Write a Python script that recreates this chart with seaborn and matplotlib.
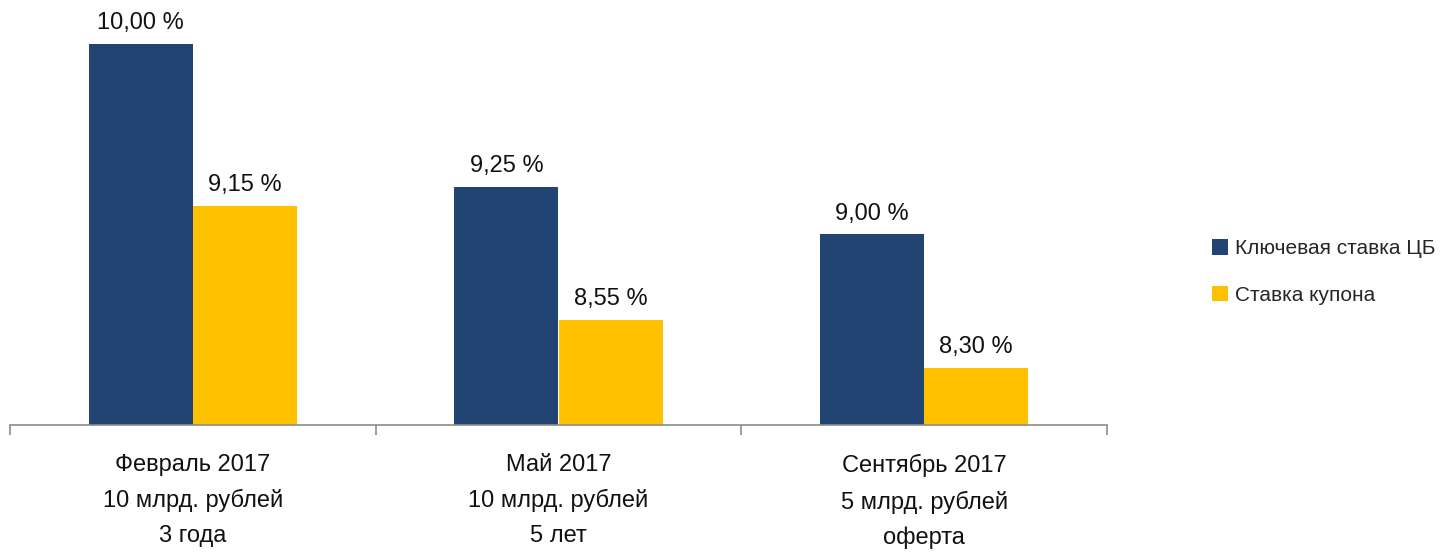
import pandas as pd
import seaborn as sns
import matplotlib.pyplot as plt
from matplotlib.ticker import FixedLocator

# Data
categories = ["Февраль 2017\n10 млрд. рублей\n3 года",
              "Май 2017\n10 млрд. рублей\n5 лет",
              "Сентябрь 2017\n5 млрд. рублей\nоферта"]
series = ["Ключевая ставка ЦБ", "Ставка купона"]
key_rate = [10.00, 9.25, 9.00]
coupon_rate = [9.15, 8.55, 8.30]
colors = ["#214473", "#FFC000"]

df = pd.DataFrame({
    "cat": categories * 2,
    "series": [series[0]] * 3 + [series[1]] * 3,
    "value": key_rate + coupon_rate,
})

sns.set_style("white")
plt.rcParams["font.family"] = ["Liberation Sans Narrow", "Liberation Sans", "DejaVu Sans"]

fig = plt.figure(figsize=(14.56, 5.53), dpi=100)
ax = fig.add_axes([10 / 1456, 1 - 425 / 553, 1097 / 1456, 425 / 553])

sns.barplot(data=df, x="cat", y="value", hue="series", palette=colors,
            width=0.57, saturation=1, ax=ax, edgecolor="none")

ax.set_ylim(8.0, 10.23)
ax.set_xlim(-0.5, 2.5)

for cont in ax.containers:
    ax.bar_label(cont, labels=[f"{v:.2f}".replace(".", ",") + " %" for v in cont.datavalues],
                 padding=7, fontsize=17, color="#111111")

for s in ["top", "right", "left"]:
    ax.spines[s].set_visible(False)
ax.spines["bottom"].set_color("#8c8c8c")
ax.spines["bottom"].set_linewidth(1.2)
ax.set_yticks([])
ax.set_xlabel("")
ax.set_ylabel("")

ax.tick_params(axis="x", which="major", length=0, pad=21, labelsize=17, colors="#111111")
ax.xaxis.set_minor_locator(FixedLocator([-0.5, 0.5, 1.5, 2.5]))
ax.tick_params(axis="x", which="minor", bottom=True, length=7, width=1.2, color="#8c8c8c")
for lab in ax.get_xticklabels():
    lab.set_linespacing(1.72)

handles, labels = ax.get_legend_handles_labels()
ax.legend(handles, labels, loc="center left", bbox_to_anchor=(1193 / 1456, 1 - 272 / 553),
          bbox_transform=fig.transFigure, frameon=False, fontsize=15,
          handlelength=0.8, handleheight=0.8, handletextpad=0.3, labelspacing=1.3)

fig.savefig("out.png", dpi=100)
